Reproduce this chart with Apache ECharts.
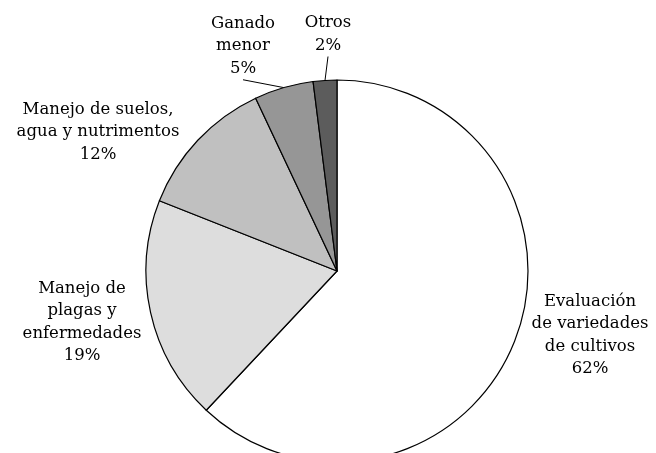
<!DOCTYPE html>
<html>
<head>
<meta charset="utf-8">
<script src="https://cdn.jsdelivr.net/npm/echarts@6/dist/echarts.min.js"></script>
<style>
  html, body { margin: 0; padding: 0; background: #fff; }
  #chart { width: 656px; height: 453px; }
</style>
</head>
<body>
<div id="chart"></div>
<script>
const categories = [
  'Evaluación\nde variedades\nde cultivos',
  'Manejo de\nplagas y\nenfermedades',
  'Manejo de suelos,\nagua y nutrimentos',
  'Ganado\nmenor',
  'Otros'
]
const shares = [62, 19, 12, 5, 2]
const sliceColors = ['#ffffff', '#dddddd', '#c0c0c0', '#969696', '#5c5c5c']

// label centres (px) and whether a leader line is drawn
const labelSpots = [[590, 335], [82, 322], [98, 132], [243, 46], [328, 34]]
const withLine = [false, false, false, true, true]

const myChart = echarts.init(document.getElementById('chart'))

const options = {
  animation: false,
  backgroundColor: '#ffffff',
  textStyle: { fontFamily: 'DejaVu Serif' },
  series: [
    {
      type: 'pie',
      center: [337, 271],
      radius: 191,
      startAngle: 90,
      clockwise: true,
      avoidLabelOverlap: false,
      itemStyle: { borderColor: '#000', borderWidth: 1.2 },
      label: {
        show: true,
        position: 'outside',
        formatter: '{b}\n{d}%',
        fontFamily: 'DejaVu Serif',
        fontSize: 16.5,
        lineHeight: 22.5,
        color: '#000',
        align: 'center'
      },
      labelLine: {
        show: true,
        length: 8,
        length2: 0,
        lineStyle: { color: '#000', width: 1 }
      },
      labelLayout: function (params) {
        const p = labelSpots[params.dataIndex]
        return { x: p[0], y: p[1], align: 'center', verticalAlign: 'middle' }
      },
      emphasis: { disabled: true },
      data: categories.map((name, i) => ({
        name: name,
        value: shares[i],
        itemStyle: { color: sliceColors[i] },
        labelLine: { show: withLine[i] }
      }))
    }
  ]
}
myChart.setOption(options)
</script>
</body>
</html>
